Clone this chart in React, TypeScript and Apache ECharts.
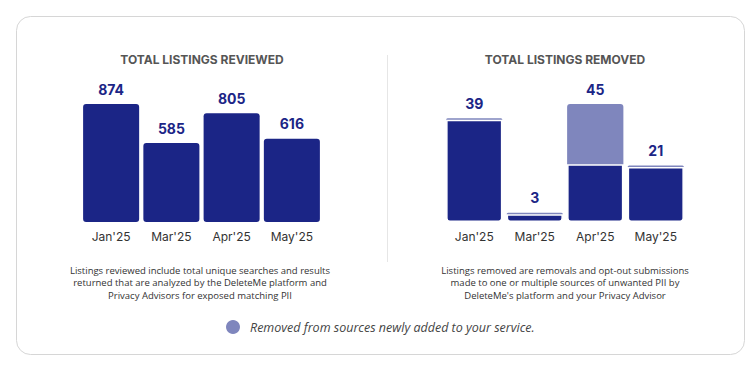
import React, { useEffect, useRef } from "react";
import * as echarts from "echarts";

const months = ["Jan'25", "Mar'25", "Apr'25", "May'25"];
const reviewed = [874, 585, 805, 616];
const removedExisting = [39, 3, 22, 21];
const removedNewSources = [0, 0, 23, 0];
const removedTotals = [39, 3, 45, 21];

const DARK = "#1b2586";
const LIGHT = "#7f86bd";
const FONT = "Inter, 'Open Sans', sans-serif";

export default function App() {
  const ref = useRef<HTMLDivElement>(null);
  useEffect(() => {
    if (!ref.current) return;
    const chart = echarts.init(ref.current, undefined, { renderer: "svg" });
    const valueLabel = {
      show: true,
      position: "top" as const,
      distance: 8,
      color: DARK,
      fontSize: 14,
      fontWeight: "bold" as const,
      fontFamily: FONT,
    };
    const titleStyle = { fontSize: 12, fontWeight: "bold", color: "#555", fontFamily: FONT };
    const noteStyle = {
      textAlign: "center",
      fontSize: 9.5,
      lineHeight: 12.5,
      fill: "#333",
      fontFamily: "'Open Sans', sans-serif",
    };
    chart.setOption({
      animation: false,
      backgroundColor: "#ffffff",
      title: [
        { text: "TOTAL LISTINGS REVIEWED", left: 202, top: 53, padding: 0, textAlign: "center", textStyle: titleStyle },
        { text: "TOTAL LISTINGS REMOVED", left: 565, top: 53, padding: 0, textAlign: "center", textStyle: titleStyle },
      ],
      grid: [
        { left: 81, width: 241, top: 87, height: 135 },
        { left: 444, width: 242, top: 87, height: 135 },
      ],
      xAxis: [0, 1].map((i) => ({
        type: "category",
        gridIndex: i,
        data: months,
        axisLine: { show: false },
        axisTick: { show: false },
        axisLabel: { color: "#333", fontSize: 12, fontFamily: FONT, margin: 8 },
      })),
      yAxis: [
        { type: "value", gridIndex: 0, min: 0, max: 1000, show: false },
        { type: "value", gridIndex: 1, min: 0, max: 51.5, show: false },
      ],
      series: [
        {
          type: "bar",
          xAxisIndex: 0,
          yAxisIndex: 0,
          data: reviewed,
          barCategoryGap: "7%",
          itemStyle: { color: DARK, borderRadius: 3 },
          label: valueLabel,
        },
        {
          type: "bar",
          xAxisIndex: 1,
          yAxisIndex: 1,
          stack: "removed",
          data: removedExisting,
          barCategoryGap: "7%",
          itemStyle: { color: DARK, borderRadius: [0, 0, 3, 3], borderColor: "#fff", borderWidth: 1.5 },
        },
        {
          type: "bar",
          xAxisIndex: 1,
          yAxisIndex: 1,
          stack: "removed",
          data: removedNewSources,
          barCategoryGap: "7%",
          barMinHeight: 1.5,
          itemStyle: { color: LIGHT, borderRadius: [3, 3, 0, 0] },
          label: {
            ...valueLabel,
            formatter: (p: any) => String(removedTotals[p.dataIndex]),
          },
        },
      ],
      graphic: [
        {
          type: "rect",
          shape: { x: 16.5, y: 16.5, width: 728, height: 338, r: 14 },
          style: { fill: "none", stroke: "#d6d6d6", lineWidth: 1 },
          silent: true,
        },
        {
          type: "line",
          shape: { x1: 387.5, y1: 55, x2: 387.5, y2: 262 },
          style: { stroke: "#e6e6e6", lineWidth: 1 },
        },
        {
          type: "text",
          x: 200,
          y: 264,
          style: {
            ...noteStyle,
            text:
              "Listings reviewed include total unique searches and results\nreturned that are analyzed by the DeleteMe platform and\nPrivacy Advisors for exposed matching PII",
          },
        },
        {
          type: "text",
          x: 565,
          y: 264,
          style: {
            ...noteStyle,
            text:
              "Listings removed are removals and opt-out submissions\nmade to one or multiple sources of unwanted PII by\nDeleteMe's platform and your Privacy Advisor",
          },
        },
        {
          type: "circle",
          shape: { cx: 233, cy: 327, r: 7 },
          style: { fill: LIGHT },
        },
        {
          type: "text",
          x: 250,
          y: 327,
          style: {
            text: "Removed from sources newly added to your service.",
            textVerticalAlign: "middle",
            fontSize: 12.5,
            fontStyle: "italic",
            fill: "#444",
            fontFamily: "'Open Sans', sans-serif",
          },
        },
      ],
    });
    return () => chart.dispose();
  }, []);
  return (
    <div
      ref={ref}
      style={{ position: "absolute", left: 0, top: 0, width: 754, height: 366 }}
    />
  );
}
